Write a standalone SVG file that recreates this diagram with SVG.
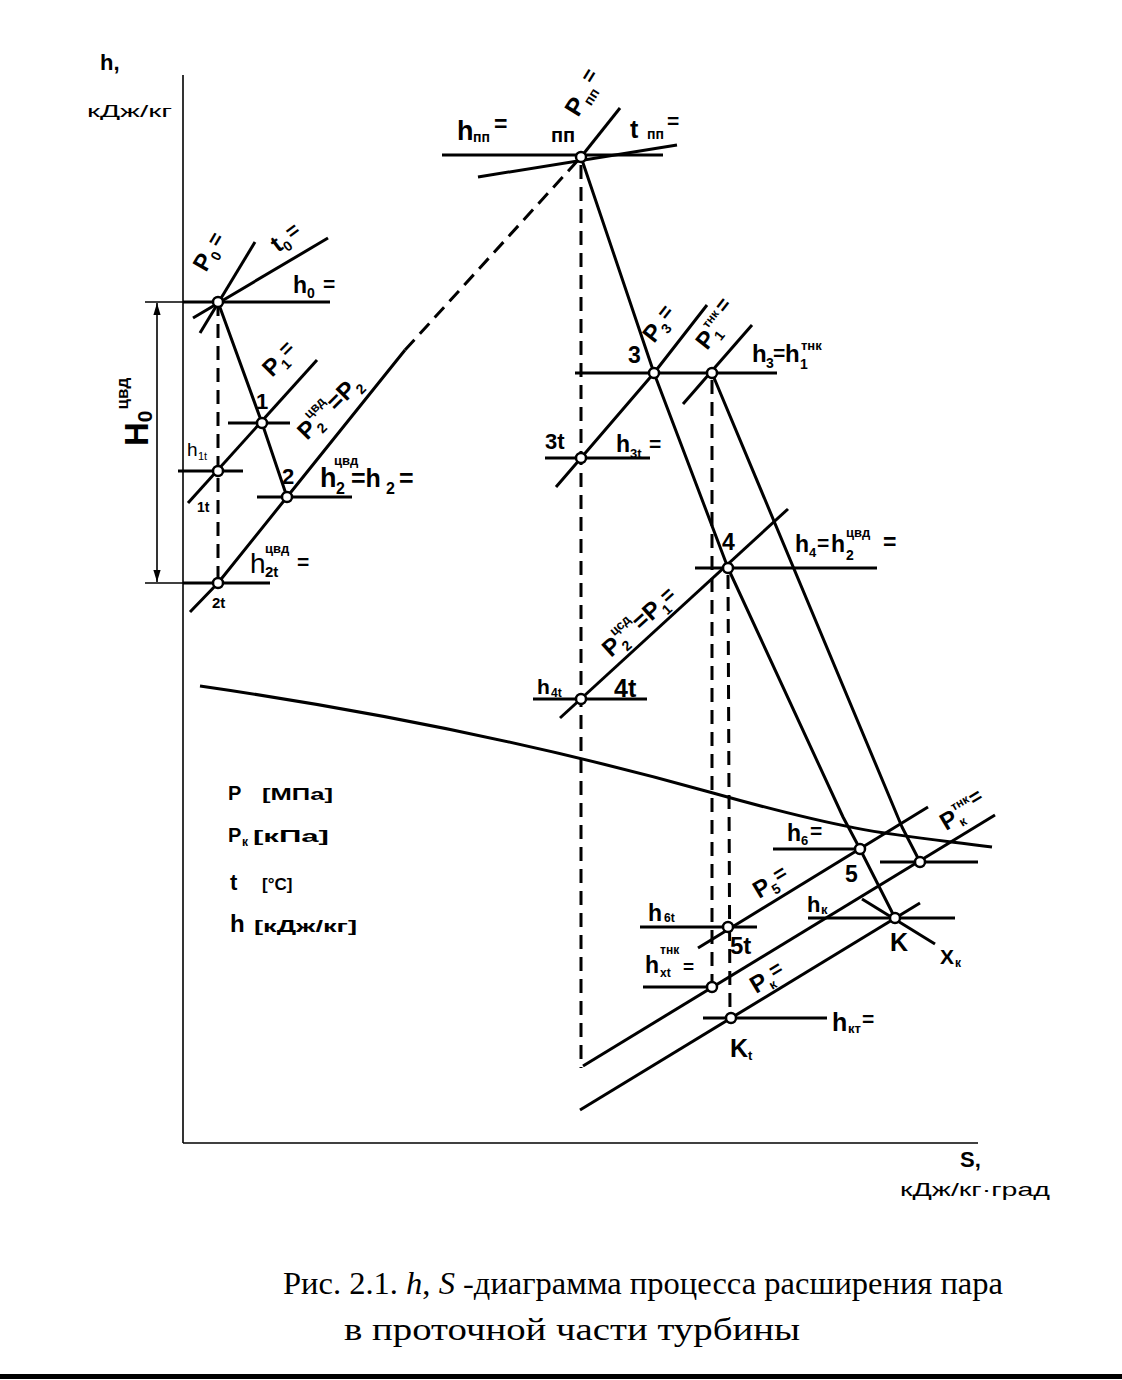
<svg xmlns="http://www.w3.org/2000/svg" width="1122" height="1380" viewBox="0 0 1122 1380">
<style>
.l{stroke:#000;stroke-width:3;fill:none;stroke-linejoin:round}
.a{stroke:#000;stroke-width:1.6;fill:none}
.d{stroke:#000;stroke-width:3;fill:none;stroke-dasharray:14 8}
.p{fill:#fff;stroke:#000;stroke-width:2.5}
text{font-family:"Liberation Sans",Arial,sans-serif;fill:#000;font-weight:bold}
.n{font-weight:normal}
.cap{font-family:"Liberation Serif","Times New Roman",serif;font-weight:normal;font-size:31px}
</style>
<defs>
<marker id="ar" viewBox="0 0 10 10" refX="10" refY="5" markerWidth="12" markerHeight="12" orient="auto-start-reverse" markerUnits="userSpaceOnUse"><path d="M0,2 L10,5 L0,8 z" fill="#000"/></marker>
</defs>
<rect width="1122" height="1380" fill="#fff"/>

<g id="axes">
<line class="a" x1="183" y1="75" x2="183" y2="1143"/>
<line class="a" x1="183" y1="1143" x2="978" y2="1143"/>
<text x="100" y="70" font-size="22">h,</text>
<text class="n" x="87" y="117" font-size="17" textLength="85" lengthAdjust="spacingAndGlyphs">кДж/кг</text>
<text x="960" y="1167" font-size="22">S,</text>
<text class="n" x="900" y="1196" font-size="18" textLength="150" lengthAdjust="spacingAndGlyphs">кДж/кг·град</text>
</g>

<g id="dimension">
<line class="a" x1="145" y1="302" x2="183" y2="302"/>
<line class="a" x1="145" y1="583" x2="183" y2="583"/>
<line class="a" x1="157" y1="303" x2="157" y2="582" marker-start="url(#ar)" marker-end="url(#ar)"/>
<text font-size="33" transform="translate(148,446) rotate(-90)">H<tspan font-size="21" dy="4">0</tspan><tspan font-size="17" dx="1" dy="-24">цвд</tspan></text>
</g>

<g id="connectors">
<path class="l" stroke-width="2.5" d="M200,686 C380,712 560,750 713,793 S900,835 992,847"/>
<line class="l" x1="200" y1="333" x2="255" y2="242"/>
<line class="l" x1="193" y1="318" x2="328" y2="238"/>
<line class="l" x1="183" y1="302" x2="330" y2="302"/>
<line class="l" x1="188" y1="503" x2="317" y2="360"/>
<line class="l" x1="228" y1="423" x2="290" y2="423"/>
<line class="l" x1="178" y1="471" x2="243" y2="471"/>
<line class="l" x1="257" y1="497" x2="352" y2="497"/>
<line class="l" x1="183" y1="583" x2="270" y2="583"/>
<polyline class="l" points="190,612 218,583 287,497 405,350"/>
<line class="d" x1="405" y1="350" x2="581" y2="157"/>
<line class="l" x1="442" y1="155" x2="663" y2="155"/>
<line class="l" x1="478" y1="177" x2="677" y2="145"/>
<line class="l" x1="620" y1="108" x2="581" y2="157"/>
<polyline class="l" points="556,487 581,458 654,373 707,305"/>
<line class="l" x1="683" y1="404" x2="752" y2="325"/>
<line class="l" x1="575" y1="373" x2="777" y2="373"/>
<line class="l" x1="545" y1="458" x2="650" y2="458"/>
<line class="l" x1="560" y1="718" x2="788" y2="509"/>
<line class="l" x1="695" y1="568" x2="877" y2="568"/>
<line class="l" x1="533" y1="699" x2="647" y2="699"/>
<line class="l" x1="698" y1="948" x2="928" y2="807"/>
<line class="l" x1="583" y1="1066" x2="995" y2="815"/>
<line class="l" x1="580" y1="1110" x2="920" y2="903"/>
<line class="l" x1="773" y1="849" x2="860" y2="849"/>
<line class="l" x1="640" y1="927" x2="757" y2="927"/>
<line class="l" x1="643" y1="987" x2="712" y2="987"/>
<line class="l" x1="703" y1="1018" x2="827" y2="1018"/>
<line class="l" x1="808" y1="918" x2="955" y2="918"/>
<line class="l" x1="862" y1="899" x2="935" y2="944"/>
<line class="l" x1="880" y1="862" x2="978" y2="862"/>
<polyline class="l" points="218,302 262,423 287,497"/>
<polyline class="l" points="581,157 654,373 728,568 843,817 860,849 895,918"/>
<polyline class="l" points="712,373 902,827 920,862"/>
<line class="d" x1="218" y1="302" x2="218" y2="583"/>
<line class="d" x1="581" y1="165" x2="581" y2="1068"/>
<line class="d" x1="712" y1="380" x2="712" y2="987"/>
<line class="d" x1="728" y1="575" x2="730" y2="1018"/>
</g>

<g id="node-0">
<circle class="p" cx="218" cy="302" r="5"/>
<text font-size="24" transform="translate(206,273) rotate(-60)">P<tspan font-size="14" dy="5">0</tspan><tspan font-size="21" dx="4" dy="-7">=</tspan></text>
<text font-size="24" transform="translate(278,253) rotate(-37)">t<tspan font-size="14" dy="5">0</tspan><tspan font-size="21" dx="3" dy="-7">=</tspan></text>
<text font-size="23"><tspan x="293" y="293">h</tspan><tspan x="307" y="298" font-size="14">0</tspan><tspan x="323" y="291" font-size="21">=</tspan></text>
</g>

<g id="node-1">
<circle class="p" cx="262" cy="423" r="5"/>
<text x="256" y="409" font-size="22">1</text>
<text font-size="24" transform="translate(272,378) rotate(-45)">P<tspan font-size="14" dy="5">1</tspan><tspan font-size="21" dx="1" dy="-9">=</tspan></text>
</g>

<g id="node-1t">
<circle class="p" cx="218" cy="471" r="5"/>
<text class="n" font-size="19"><tspan x="187" y="456">h</tspan><tspan x="198" y="460" font-size="11">1t</tspan></text>
<text x="197" y="512" font-size="14">1t</text>
</g>

<g id="node-2">
<circle class="p" cx="287" cy="497" r="5"/>
<text x="282" y="484" font-size="22">2</text>
<text font-size="24" transform="translate(307,441) rotate(-45)">P<tspan font-size="14" dy="6">2</tspan><tspan font-size="13" dx="-7" dy="-20">цвд</tspan><tspan font-size="24" dy="14">=P</tspan><tspan font-size="14" dy="6">2</tspan></text>
<text font-size="27"><tspan x="320" y="487">h</tspan><tspan x="334" y="465" font-size="13">цвд</tspan><tspan x="336" y="494" font-size="16">2</tspan><tspan x="351" y="487" font-size="25">=h</tspan><tspan x="386" y="494" font-size="16">2</tspan><tspan x="399" y="487" font-size="25">=</tspan></text>
</g>

<g id="node-2t">
<circle class="p" cx="218" cy="583" r="5"/>
<text x="212" y="608" font-size="15">2t</text>
<text class="n" font-size="28"><tspan x="250" y="573">h</tspan><tspan x="265" y="553" font-size="13" font-weight="bold">цвд</tspan><tspan x="265" y="577" font-size="15" font-weight="bold">2t</tspan><tspan x="297" y="569" font-size="21" font-weight="bold">=</tspan></text>
</g>

<g id="node-pp">
<circle class="p" cx="581" cy="157" r="5"/>
<text font-size="27"><tspan x="457" y="140">h</tspan><tspan x="473" y="142" font-size="14">пп</tspan><tspan x="494" y="132" font-size="23">=</tspan></text>
<text x="551" y="142" font-size="20">пп</text>
<text font-size="25" transform="translate(578,118) rotate(-58)">P<tspan font-size="14" dy="5">пп</tspan><tspan font-size="21" dx="2" dy="-11">=</tspan></text>
<text font-size="25"><tspan x="630" y="138">t</tspan><tspan x="647" y="139" font-size="14">пп</tspan><tspan x="667" y="128" font-size="21">=</tspan></text>
</g>

<g id="node-3">
<circle class="p" cx="654" cy="373" r="5"/>
<text x="628" y="363" font-size="23">3</text>
<text font-size="24" transform="translate(654,344) rotate(-52)">P<tspan font-size="14" dy="5">3</tspan><tspan font-size="21" dx="2" dy="-9">=</tspan></text>
</g>

<g id="node-1tnk">
<circle class="p" cx="712" cy="373" r="5"/>
<text font-size="24" transform="translate(707,351) rotate(-52)">P<tspan font-size="14" dy="5">1</tspan><tspan font-size="12" dx="-6" dy="-18">тнк</tspan><tspan font-size="21" dx="3" dy="4">=</tspan></text>
<text font-size="24"><tspan x="752" y="362">h</tspan><tspan x="766" y="368" font-size="14">3</tspan><tspan x="773" y="360" font-size="21">=</tspan><tspan x="785" y="362">h</tspan><tspan x="800" y="369" font-size="14">1</tspan><tspan x="801" y="350" font-size="13">тнк</tspan></text>
</g>

<g id="node-3t">
<circle class="p" cx="581" cy="458" r="5"/>
<text x="545" y="449" font-size="22">3t</text>
<text font-size="23"><tspan x="616" y="452">h</tspan><tspan x="630" y="458" font-size="13">3t</tspan><tspan x="649" y="451" font-size="21">=</tspan></text>
</g>

<g id="node-4">
<circle class="p" cx="728" cy="568" r="5"/>
<text x="722" y="550" font-size="23">4</text>
<text font-size="23"><tspan x="795" y="552">h</tspan><tspan x="809" y="557" font-size="13">4</tspan><tspan x="817" y="550" font-size="21">=</tspan><tspan x="831" y="552">h</tspan><tspan x="846" y="537" font-size="13">цвд</tspan><tspan x="846" y="560" font-size="14">2</tspan><tspan x="883" y="550">=</tspan></text>
<text font-size="24" transform="translate(611,658) rotate(-42)">P<tspan font-size="14" dy="6">2</tspan><tspan font-size="13" dx="-7" dy="-20">цсд</tspan><tspan font-size="24" dy="14">=P</tspan><tspan font-size="14" dy="6">1</tspan><tspan font-size="21" dy="-8">=</tspan></text>
</g>

<g id="node-4t">
<circle class="p" cx="581" cy="699" r="5"/>
<text font-size="21"><tspan x="537" y="694">h</tspan><tspan x="551" y="697" font-size="12">4t</tspan></text>
<text x="614" y="697" font-size="25">4t</text>
</g>

<g id="node-5">
<circle class="p" cx="860" cy="849" r="5"/>
<text x="845" y="882" font-size="23">5</text>
<text font-size="23"><tspan x="787" y="841">h</tspan><tspan x="801" y="845" font-size="13">6</tspan><tspan x="810" y="838" font-size="21">=</tspan></text>
<text font-size="24" transform="translate(759,899) rotate(-31)">P<tspan font-size="14" dy="5">5</tspan><tspan font-size="21" dx="1" dy="-9">=</tspan></text>
</g>

<g id="node-5t">
<circle class="p" cx="728" cy="927" r="5"/>
<text font-size="23"><tspan x="648" y="921">h</tspan><tspan x="664" y="922" font-size="12">6t</tspan></text>
<text x="730" y="954" font-size="24">5t</text>
</g>

<g id="node-ktnk">
<circle class="p" cx="920" cy="862" r="5"/>
<text font-size="24" transform="translate(946,831) rotate(-31)">P<tspan font-size="13" dy="5">к</tspan><tspan font-size="12" dx="-6" dy="-18">тнк</tspan><tspan font-size="21" dx="1" dy="6">=</tspan></text>
</g>

<g id="node-xt">
<circle class="p" cx="712" cy="987" r="5"/>
<text font-size="23"><tspan x="645" y="973">h</tspan><tspan x="660" y="954" font-size="12">тнк</tspan><tspan x="660" y="977" font-size="12">xt</tspan><tspan x="683" y="973" font-size="19">=</tspan></text>
</g>

<g id="node-k">
<circle class="p" cx="895" cy="918" r="5"/>
<text x="890" y="951" font-size="25">K</text>
<text font-size="22"><tspan x="807" y="912">h</tspan><tspan x="821" y="914" font-size="13">к</tspan></text>
<text font-size="21"><tspan x="940" y="964">X</tspan><tspan x="955" y="967" font-size="12">к</tspan></text>
<text font-size="24" transform="translate(756,994) rotate(-31)">P<tspan font-size="13" dy="5">к</tspan><tspan font-size="21" dx="1" dy="-9">=</tspan></text>
</g>

<g id="node-kt">
<circle class="p" cx="731" cy="1018" r="5"/>
<text font-size="25"><tspan x="730" y="1057">K</tspan><tspan x="748" y="1060" font-size="13">t</tspan></text>
<text font-size="25"><tspan x="832" y="1031">h</tspan><tspan x="848" y="1033" font-size="13">кт</tspan><tspan x="862" y="1026" font-size="21">=</tspan></text>
</g>

<g id="legend">
<text font-size="20"><tspan x="228" y="800">P</tspan><tspan x="262" y="800" font-size="17" textLength="71" lengthAdjust="spacingAndGlyphs">[МПа]</tspan></text>
<text font-size="20"><tspan x="228" y="842">P</tspan><tspan x="242" y="846" font-size="12">к</tspan><tspan x="253" y="842" font-size="17" textLength="76" lengthAdjust="spacingAndGlyphs">[кПа]</tspan></text>
<text font-size="22"><tspan x="230" y="890">t</tspan><tspan x="262" y="890" font-size="17">[°C]</tspan></text>
<text font-size="24"><tspan x="230" y="932">h</tspan><tspan x="254" y="932" font-size="17" textLength="103" lengthAdjust="spacingAndGlyphs">[кДж/кг]</tspan></text>
</g>

<g id="caption">
<text class="cap" x="283" y="1294" textLength="720" lengthAdjust="spacingAndGlyphs">Рис. 2.1. <tspan font-style="italic">h</tspan>, <tspan font-style="italic">S</tspan> -диаграмма процесса расширения пара</text>
<text class="cap" x="344" y="1340" textLength="456" lengthAdjust="spacingAndGlyphs">в проточной части турбины</text>
</g>
<rect x="0" y="1374" width="1122" height="5" fill="#000"/>
</svg>
